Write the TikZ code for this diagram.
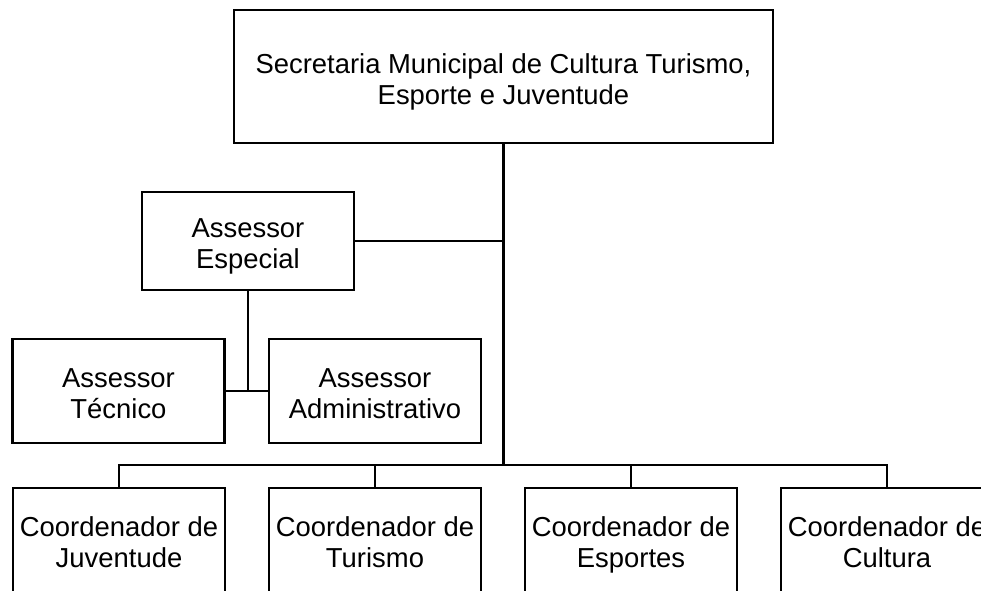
\documentclass[tikz,border=0pt]{standalone}
\usepackage{fontspec}
\setmainfont{Liberation Sans}
\begin{document}
\begin{tikzpicture}[x=0.025cm,y=-0.025cm]
        \useasboundingbox (0,0) rectangle (981,591);
        \begin{scope}[every node/.style={draw,line width=1.8pt,align=center,font=\fontsize{19.5}{22}\selectfont,minimum width=5.3cm,minimum height=2.6cm,inner sep=0pt}]
            \node (sec) [minimum width=13.475cm,minimum height=3.325cm] at (503.5,76.5) {\rule{0pt}{24pt}Secretaria Municipal de Cultura Turismo,\\Esporte e Juventude\strut};
            \node (esp) [minimum height=2.45cm] at (248,241) {\rule{0pt}{24pt}Assessor\\Especial\strut};
            \node (tec) at (118.5,391) {\rule{0pt}{24pt}Assessor\\T\'ecnico\strut};
            \node (adm) at (375,391) {\rule{0pt}{24pt}Assessor\\Administrativo\strut};
            \node (juv) at (119,540) {\rule{0pt}{24pt}Coordenador de\\Juventude\strut};
            \node (tur) at (375,540) {\rule{0pt}{24pt}Coordenador de\\Turismo\strut};
            \node (esc) at (631,540) {\rule{0pt}{24pt}Coordenador de\\Esportes\strut};
            \node (cul) at (887,540) {\rule{0pt}{24pt}Coordenador de\\Cultura\strut};
        \end{scope}
        \coordinate (tr) at (503.5,465);
        \coordinate (mid) at (503.5,241);
        \coordinate (sub) at (248,391);
        \begin{scope}[every edge/.style={draw,line width=1.6pt},hv/.style={to path={-| (\tikztotarget)}}]
            \path
                (sec) edge (tr)
                (esp) edge (mid)
                (esp) edge (sub)
                (tec) edge (adm)
                (tr) edge [hv] (juv)
                (tr) edge [hv] (tur)
                (tr) edge [hv] (esc)
                (tr) edge [hv] (cul);
        \end{scope}
    \end{tikzpicture}
\end{document}
